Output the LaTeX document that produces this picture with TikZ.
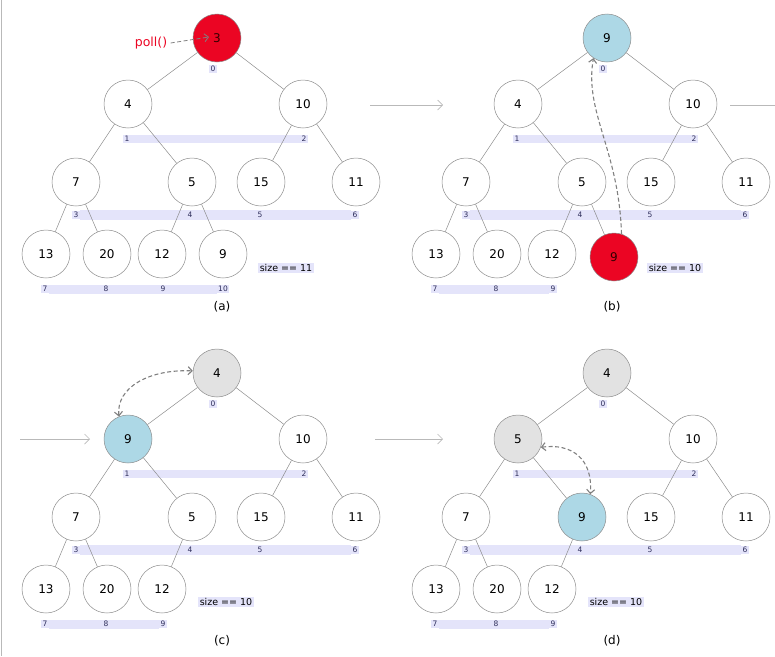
\documentclass[tikz,border=0pt]{standalone}
\usepackage{fontspec}
\setmainfont{DejaVu Sans}
\usetikzlibrary{arrows.meta}
\usetikzlibrary{positioning}
\usetikzlibrary{backgrounds}

\definecolor{popred}{RGB}{235,5,35}
\definecolor{swapblue}{RGB}{173,216,230}
\definecolor{donegray}{RGB}{226,226,226}
\definecolor{barlav}{RGB}{228,228,250}
\definecolor{idxtext}{RGB}{45,45,90}
\definecolor{edgegray}{RGB}{140,140,140}
\definecolor{stepgray}{RGB}{185,185,185}

\begin{document}
\begin{tikzpicture}[x=1pt, y=-1pt,
    key/.style={circle, draw=edgegray, line width=0.5pt, minimum size=48pt, inner sep=0pt, font=\fontsize{12}{14}\selectfont},
    plain/.style={fill=white},
    hot/.style={fill=popred, text=black!80!red},
    cool/.style={fill=swapblue},
    done/.style={fill=donegray},
    idx/.style={fill=barlav, text=idxtext, inner sep=1.5pt, font=\fontsize{7.5}{8}\selectfont},
    bar/.style={fill=barlav},
    tree/.style={draw=edgegray, line width=0.5pt},
    sizebox/.style={fill=barlav, inner sep=1.5pt, font=\fontsize{9.5}{11}\selectfont},
    caption/.style={font=\fontsize{12}{14}\selectfont},
    nextarrow/.style={draw=stepgray, line width=0.7pt, -{Straight Barb[length=5pt, width=10pt]}},
    moved/.style={draw=gray, dashed, dash pattern=on 4pt off 2.5pt, line width=1.1pt, -{Straight Barb[length=4pt, width=8pt]}}]

    % Fix the page to the reference size
    \useasboundingbox (0,0) rectangle (775,656);
    \draw[stepgray, line width=0.8pt] (1.5,0) -- (1.5,656);

    % Index rows under each heap: label 0 .. 10
    \def\slotsfull{0/213/69, 1/127/139, 2/304/139, 3/76/215, 4/190/215, 5/260/215, 6/355/215, 7/45/289, 8/106/289, 9/163/289, 10/223/289}
    \def\slotsten{0/213/69, 1/127/139, 2/304/139, 3/76/215, 4/190/215, 5/260/215, 6/355/215, 7/45/289, 8/106/289, 9/163/289}

    % ---------------- (a) ----------------
    \begin{scope}[shift={(0,0)}]
      \foreach \i/\x/\y in \slotsfull
        \node[idx] (ai\i) at (\x,\y) {\i};
      \begin{scope}[on background layer]
        \path[bar] (ai1.north east) rectangle (ai2.south west);
        \path[bar] (ai3.north east) rectangle (ai6.south west);
        \path[bar] (ai7.north east) rectangle (ai10.south west);
      \end{scope}

      \foreach \i/\x/\y/\v/\s in {0/217/38/3/hot, 1/128/104/4/plain, 2/303/104/10/plain, 3/76/182/7/plain, 4/192/182/5/plain, 5/261/182/15/plain, 6/356/182/11/plain, 7/46/254/13/plain, 8/107/254/20/plain, 9/162/254/12/plain, 10/223/254/9/plain}
        \node[key, \s] (a\i) at (\x,\y) {\v};
      \foreach \c/\p in {1/0, 2/0, 3/1, 4/1, 5/2, 6/2, 7/3, 8/3, 9/4, 10/4}
        \draw[tree] (a\p) -- (a\c);

      \node[text=popred, font=\fontsize{12.5}{14}\selectfont] (poll) at (151,43) {poll()};
      \coordinate (pollend) at (209,37);
      \draw[moved, line width=0.8pt] (poll.east) -- (pollend);

      \node[sizebox] (sizea) at (286,268) {size == 11};
      \node[caption] (capa) at (222,307) {(a)};
    \end{scope}

    % step arrows between the panels
    \coordinate (abL) at (370,105);
    \coordinate (abR) at (443,105);
    \coordinate (bcL) at (730,105);
    \coordinate (bcR) at (775,105);
    \coordinate (cL) at (20,439);
    \coordinate (cR) at (90,439);
    \coordinate (dL) at (375,439);
    \coordinate (dR) at (443,439);
    \draw[nextarrow] (abL) -- (abR);
    \draw[draw=stepgray, line width=0.7pt] (bcL) -- (bcR);
    \draw[nextarrow] (cL) -- (cR);
    \draw[nextarrow] (dL) -- (dR);

    % ---------------- (b) ----------------
    \begin{scope}[shift={(390,0)}]
      \foreach \i/\x/\y in \slotsten
        \node[idx] (bi\i) at (\x,\y) {\i};
      \begin{scope}[on background layer]
        \path[bar] (bi1.north east) rectangle (bi2.south west);
        \path[bar] (bi3.north east) rectangle (bi6.south west);
        \path[bar] (bi7.north east) rectangle (bi9.south west);
      \end{scope}

      \foreach \i/\x/\y/\v/\s in {0/217/38/9/cool, 1/128/104/4/plain, 2/303/104/10/plain, 3/76/182/7/plain, 4/192/182/5/plain, 5/261/182/15/plain, 6/356/182/11/plain, 7/46/254/13/plain, 8/107/254/20/plain, 9/162/254/12/plain, 10/224/257/9/hot}
        \node[key, \s] (b\i) at (\x,\y) {\v};
      \foreach \c/\p in {1/0, 2/0, 3/1, 4/1, 5/2, 6/2, 7/3, 8/3, 9/4, 10/4}
        \draw[tree] (b\p) -- (b\c);

      \draw[moved] (b10.72) .. controls (229,150) and (194,112) .. (b0.236);

      \node[sizebox] (sizeb) at (285,268) {size == 10};
      \node[caption] (capb) at (222,307) {(b)};
    \end{scope}

    % ---------------- (c) ----------------
    \begin{scope}[shift={(0,335)}]
      \foreach \i/\x/\y in \slotsten
        \node[idx] (ci\i) at (\x,\y) {\i};
      \begin{scope}[on background layer]
        \path[bar] (ci1.north east) rectangle (ci2.south west);
        \path[bar] (ci3.north east) rectangle (ci6.south west);
        \path[bar] (ci7.north east) rectangle (ci9.south west);
      \end{scope}

      \foreach \i/\x/\y/\v/\s in {0/217/38/4/done, 1/128/104/9/cool, 2/303/104/10/plain, 3/76/182/7/plain, 4/192/182/5/plain, 5/261/182/15/plain, 6/356/182/11/plain, 7/46/254/13/plain, 8/107/254/20/plain, 9/162/254/12/plain}
        \node[key, \s] (c\i) at (\x,\y) {\v};
      \foreach \c/\p in {1/0, 2/0, 3/1, 4/1, 5/2, 6/2, 7/3, 8/3, 9/4}
        \draw[tree] (c\p) -- (c\c);

      \draw[moved, <->, >={Straight Barb[length=4pt, width=8pt]}] (c1.112) .. controls (116,52) and (150,34) .. (c0.175);

      \node[sizebox] (sizec) at (226,267) {size == 10};
      \node[caption] (capc) at (222,306) {(c)};
    \end{scope}

    % ---------------- (d) ----------------
    \begin{scope}[shift={(390,335)}]
      \foreach \i/\x/\y in \slotsten
        \node[idx] (di\i) at (\x,\y) {\i};
      \begin{scope}[on background layer]
        \path[bar] (di1.north east) rectangle (di2.south west);
        \path[bar] (di3.north east) rectangle (di6.south west);
        \path[bar] (di7.north east) rectangle (di9.south west);
      \end{scope}

      \foreach \i/\x/\y/\v/\s in {0/217/38/4/done, 1/128/104/5/done, 2/303/104/10/plain, 3/76/182/7/plain, 4/192/182/9/cool, 5/261/182/15/plain, 6/356/182/11/plain, 7/46/254/13/plain, 8/107/254/20/plain, 9/162/254/12/plain}
        \node[key, \s] (d\i) at (\x,\y) {\v};
      \foreach \c/\p in {1/0, 2/0, 3/1, 4/1, 5/2, 6/2, 7/3, 8/3, 9/4}
        \draw[tree] (d\p) -- (d\c);

      \draw[moved, <->, >={Straight Barb[length=4pt, width=8pt]}] (d1.-20) .. controls (182,108) and (203,124) .. (d4.70);

      \node[sizebox] (sized) at (226,267) {size == 10};
      \node[caption] (capd) at (222,306) {(d)};
    \end{scope}
\end{tikzpicture}
\end{document}
